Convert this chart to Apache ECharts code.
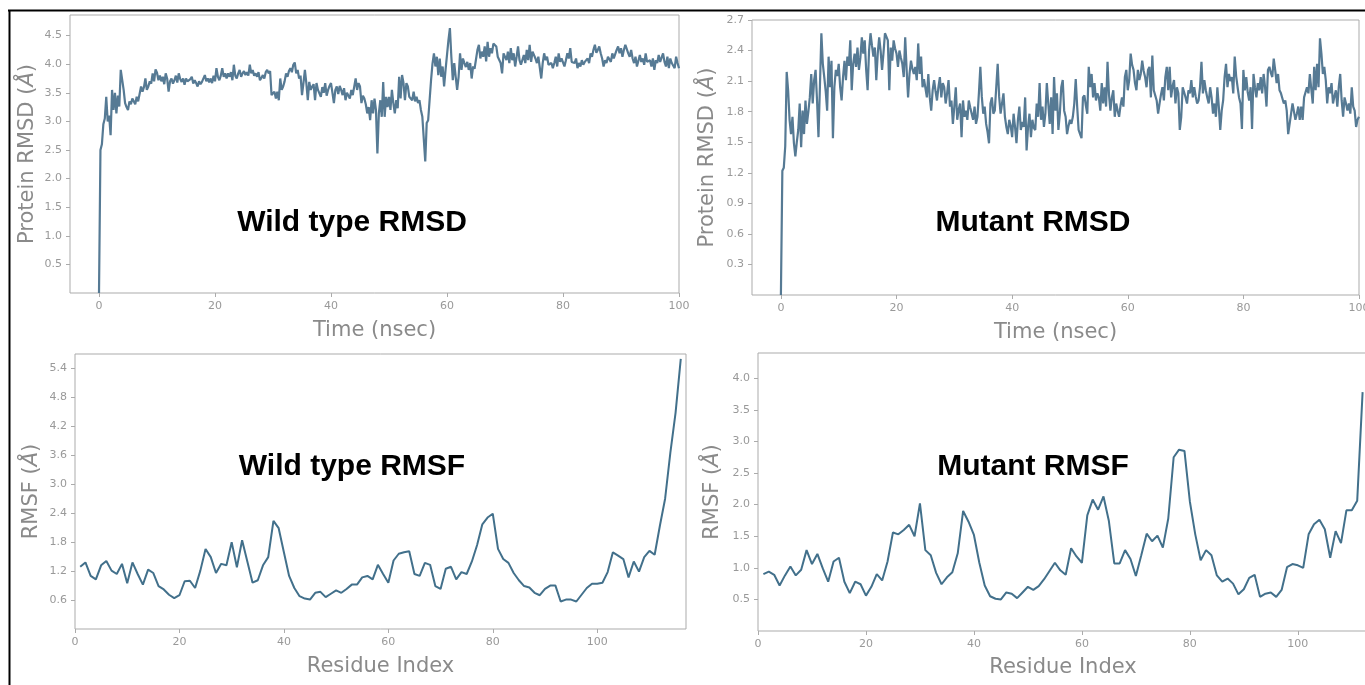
<!DOCTYPE html>
<html>
<head>
<meta charset="utf-8">
<script src="https://cdn.jsdelivr.net/npm/echarts@6/dist/echarts.min.js"></script>
<style>
html,body{margin:0;padding:0;background:#fff;}
#c{width:1365px;height:685px;}
</style>
</head>
<body>
<div id="c"></div>
<script>
// ---- data ----
const RMSD_STEP_NS = 0.25; // sampling interval of the RMSD traces (ns)

const wtRmsd = [
0.00,2.50,2.60,2.95, 3.05,3.43,3.00,3.10, 2.76,3.55,3.20,3.50, 3.14,3.45,3.26,3.90, 3.93,3.55,3.32,3.25,
3.20,3.35,3.30,3.40, 3.37,3.30,3.43,3.35, 3.32,3.61,3.52,3.60, 3.75,3.55,3.61,3.70, 3.66,3.84,3.70,3.91,
3.85,3.72,3.80,3.70, 3.78,3.65,3.84,3.75, 3.52,3.70,3.75,3.66, 3.72,3.80,3.68,3.84, 3.74,3.69,3.75,3.64,
3.75,3.70,3.67,3.74, 3.78,3.66,3.72,3.67, 3.61,3.70,3.65,3.69, 3.72,3.81,3.70,3.75, 3.68,3.75,3.67,3.80,
3.70,3.93,3.78,3.72, 3.80,3.93,3.78,3.84, 3.75,3.84,3.78,3.86, 3.72,3.99,3.80,3.75, 3.84,3.90,3.78,3.84,
3.88,3.81,3.86,3.80, 3.99,3.84,3.90,3.80, 3.84,3.78,3.86,3.72, 3.76,3.81,3.75,3.86, 3.90,3.84,3.88,3.46,
3.43,3.52,3.40,3.52, 3.37,3.75,3.55,3.61, 3.70,3.84,3.78,3.88, 3.93,3.86,3.99,4.03, 3.84,3.90,3.75,3.80,
3.46,3.67,3.90,3.67, 3.37,3.69,3.55,3.61, 3.65,3.37,3.67,3.55, 3.58,3.43,3.60,3.50, 3.67,3.45,3.55,3.62,
3.67,3.50,3.32,3.55, 3.61,3.48,3.62,3.55, 3.46,3.58,3.37,3.50, 3.52,3.40,3.55,3.46, 3.46,3.75,3.55,3.67,
3.61,3.32,3.45,3.40, 3.30,3.14,3.25,3.02, 3.37,3.14,3.40,3.20, 2.44,3.14,3.37,3.08, 3.69,3.08,3.43,3.25,
3.43,3.20,3.55,3.32, 3.14,3.37,3.23,3.78, 3.40,3.81,3.67,3.37, 3.67,3.61,3.43,3.40, 3.37,3.52,3.35,3.43,
3.32,3.37,3.20,3.08, 3.08,2.30,2.97,3.02, 3.37,3.72,4.01,4.19, 3.96,4.13,3.81,4.10, 3.78,3.96,3.61,3.90,
3.90,4.42,4.63,4.13, 3.72,4.02,3.78,3.55, 3.78,4.19,3.90,4.10, 4.02,3.95,4.04,3.90, 4.02,3.75,3.96,3.92,
3.90,4.25,4.34,4.10, 4.22,4.13,4.31,4.05, 4.39,4.13,4.28,4.19, 4.36,4.39,4.31,4.13, 4.13,4.02,3.84,4.19,
4.19,4.07,4.22,4.02, 4.28,4.07,4.19,3.96, 4.13,4.31,4.07,3.99, 4.02,4.16,4.02,4.25, 4.07,4.34,4.04,4.22,
4.25,4.10,4.02,4.13, 4.13,3.75,4.02,4.19, 4.07,4.13,3.99,4.02, 4.02,3.93,4.02,4.13, 3.96,4.19,4.04,4.10,
4.13,3.96,4.07,4.19, 4.10,4.28,4.04,4.02, 4.02,4.10,3.93,4.02, 3.96,4.07,3.99,4.04, 4.04,4.10,4.02,4.19,
4.13,4.25,4.34,4.20, 4.25,4.31,4.19,4.10, 3.96,4.07,4.02,4.13, 4.13,4.04,4.19,4.10, 4.13,4.25,4.31,4.19,
4.28,4.13,4.25,4.34, 4.34,4.19,4.13,4.25, 4.10,4.02,4.13,3.96, 3.96,4.16,4.04,4.10, 3.99,4.19,4.04,4.07,
4.07,3.96,4.10,3.90, 4.07,4.02,4.16,4.04, 4.07,4.19,4.04,3.96, 4.13,3.93,4.10,4.02, 4.02,3.93,4.13,4.02,
3.93
];

const mutRmsd = [
0.00,1.22,1.25,1.46, 2.19,2.01,1.72,1.58, 1.75,1.49,1.36,1.50, 1.62,1.88,1.45,1.81, 1.58,1.91,1.68,1.80,
1.94,2.17,1.88,2.11, 2.21,1.91,1.55,2.05, 2.57,2.27,2.14,2.00, 1.81,2.34,2.04,2.30, 1.54,2.04,2.21,2.15,
2.27,2.04,1.91,2.14, 2.30,2.11,2.34,2.25, 2.50,2.01,2.27,2.37, 2.24,2.43,2.21,2.33, 2.53,2.37,2.50,2.21,
2.01,2.40,2.57,2.45, 2.34,2.43,2.11,2.37, 2.53,2.40,2.21,2.38, 2.57,2.58,2.50,2.01, 2.43,2.30,2.50,2.42,
2.37,2.24,2.40,2.33, 2.27,2.14,2.53,2.21, 1.94,2.17,2.30,2.22, 2.17,2.24,2.11,2.47, 2.17,2.34,2.04,2.12,
2.11,1.94,2.17,1.94, 1.81,2.01,2.11,2.00, 1.91,2.04,2.14,1.94, 2.08,2.04,1.88,1.98, 2.11,1.85,1.91,1.68,
1.85,2.04,1.72,1.82, 1.88,1.55,1.91,1.75, 1.81,1.72,1.91,1.84, 1.78,1.72,1.85,1.68, 1.75,1.98,2.24,1.95,
1.78,1.85,1.68,1.60, 1.49,1.88,1.94,1.78, 1.81,2.04,2.27,1.95, 1.78,1.88,1.98,1.75, 1.65,1.58,1.72,1.66,
1.55,1.78,1.65,1.49, 1.72,1.85,1.62,1.70, 1.65,1.94,1.42,1.65, 1.78,1.55,1.72,1.64, 1.62,1.88,1.75,2.08,
1.72,1.85,1.65,1.78, 2.08,1.88,1.68,1.94, 1.58,2.14,1.81,1.98, 1.62,1.78,2.04,2.11, 1.81,1.75,1.58,1.66,
1.72,1.68,1.75,1.88, 2.12,1.85,1.62,1.58, 1.54,1.94,1.96,1.86, 1.78,2.24,2.04,2.17, 1.94,2.08,1.91,1.98,
1.94,1.81,2.08,1.88, 2.04,1.85,2.29,1.97, 1.81,1.94,2.01,1.75, 1.88,1.81,1.75,1.86, 1.94,1.85,2.14,2.21,
2.01,2.11,2.37,2.26, 2.21,2.08,2.01,2.21, 2.11,2.17,2.30,2.20, 2.14,2.04,2.21,2.24, 1.94,2.35,2.01,1.96,
1.91,1.78,1.88,1.97, 2.04,1.91,2.14,2.24, 2.01,2.24,1.94,2.05, 2.11,1.88,2.04,1.98, 1.62,1.75,2.04,1.99,
1.94,1.88,2.01,1.98, 2.11,1.94,2.04,1.95, 1.88,1.91,2.04,2.29, 1.98,2.11,2.01,1.94, 1.88,2.04,1.94,1.78,
1.88,1.75,2.04,1.85, 1.62,1.81,1.91,2.14, 2.27,2.04,2.17,2.10, 2.14,1.98,2.34,2.15, 2.04,1.94,1.88,1.63,
2.21,2.01,2.14,1.99, 1.91,2.04,1.63,2.17, 2.04,1.94,2.08,2.01, 2.14,1.98,2.17,2.04, 1.85,2.21,2.24,2.18,
2.14,2.32,2.21,2.08, 2.17,2.01,1.98,1.93, 1.88,1.91,1.81,1.58, 1.57,1.78,1.88,1.80, 1.72,1.78,1.85,1.72,
1.85,1.72,1.94,1.99, 2.04,1.98,2.17,2.02, 1.88,2.24,2.01,2.27, 2.04,2.52,2.37,2.17, 2.24,2.11,1.88,2.04,
1.98,2.08,1.88,1.95, 2.01,1.85,2.04,2.17, 1.91,1.75,1.94,1.88, 1.81,1.88,1.78,2.04, 1.85,1.81,1.65,1.72,
1.75
];

// RMSF per residue (residue index starts at 1)
const wtRmsf = [
1.29,1.38,1.10,1.03,1.32,1.41,1.21,1.14,1.35,0.95,
1.38,1.14,0.92,1.23,1.16,0.89,0.82,0.71,0.64,0.70,
0.99,1.00,0.85,1.21,1.66,1.49,1.16,1.35,1.32,1.80,
1.28,1.84,1.40,0.96,1.01,1.32,1.49,2.24,2.09,1.59,
1.10,0.85,0.68,0.63,0.61,0.75,0.77,0.66,0.73,0.80,
0.75,0.83,0.92,0.92,1.07,1.10,1.03,1.33,1.14,0.96,
1.42,1.56,1.59,1.61,1.14,1.10,1.37,1.33,0.89,0.83,
1.25,1.29,1.03,1.18,1.14,1.40,1.74,2.17,2.31,2.39,
1.66,1.45,1.37,1.16,1.01,0.89,0.86,0.75,0.70,0.83,
0.90,0.90,0.57,0.61,0.61,0.57,0.71,0.85,0.94,0.94,
0.96,1.18,1.59,1.52,1.45,1.07,1.40,1.19,1.49,1.62,
1.54,2.14,2.70,3.65,4.48,5.60
];

const mutRmsf = [
0.90,0.94,0.89,0.72,0.88,1.02,0.88,0.97,1.28,1.06,
1.22,0.99,0.78,1.10,1.16,0.78,0.60,0.78,0.74,0.56,
0.70,0.90,0.80,1.10,1.56,1.53,1.60,1.68,1.50,2.02,
1.28,1.20,0.92,0.74,0.85,0.93,1.23,1.90,1.73,1.52,
1.08,0.72,0.55,0.51,0.50,0.61,0.59,0.52,0.61,0.70,
0.65,0.71,0.82,0.95,1.08,0.96,0.89,1.31,1.18,1.08,
1.83,2.08,1.92,2.13,1.74,1.07,1.07,1.28,1.14,0.87,
1.20,1.54,1.42,1.51,1.32,1.78,2.75,2.87,2.85,2.05,
1.53,1.12,1.28,1.20,0.88,0.78,0.83,0.75,0.58,0.66,
0.84,0.89,0.54,0.59,0.61,0.54,0.65,1.01,1.06,1.04,
1.00,1.53,1.69,1.76,1.61,1.16,1.58,1.39,1.91,1.91,
2.06,3.78
];

// tick positions shown on each axis
const xTicks = [0, 20, 40, 60, 80, 100];
const wtRmsdYTicks = [0.5, 1.0, 1.5, 2.0, 2.5, 3.0, 3.5, 4.0, 4.5];
const mutRmsdYTicks = [0.3, 0.6, 0.9, 1.2, 1.5, 1.8, 2.1, 2.4, 2.7];
const wtRmsfYTicks = [0.6, 1.2, 1.8, 2.4, 3.0, 3.6, 4.2, 4.8, 5.4];
const mutRmsfYTicks = [0.5, 1.0, 1.5, 2.0, 2.5, 3.0, 3.5, 4.0];

const panelTitles = ['Wild type RMSD', 'Mutant RMSD', 'Wild type RMSF', 'Mutant RMSF'];
const xTitles = ['Time (nsec)', 'Time (nsec)', 'Residue Index', 'Residue Index'];

// ---- build ----
const toTime = arr => arr.map((v, i) => [i * RMSD_STEP_NS, v]);
const toResidue = arr => arr.map((v, i) => [i + 1, v]);

const TICK_COLOR = '#999';
const TITLE_COLOR = '#8a8a8a';
const FRAME = '#ababab';

function xAxis(gridIndex, min, max, title, gap) {
  return {
    type: 'value', gridIndex, min, max,
    name: title, nameLocation: 'middle', nameGap: gap,
    nameTextStyle: { fontFamily: 'DejaVu Sans', fontSize: 21, color: TITLE_COLOR },
    axisLine: { show: false, onZero: false },
    axisTick: { show: true, length: 4, lineStyle: { color: FRAME }, customValues: xTicks },
    axisLabel: { fontFamily: 'DejaVu Sans', fontSize: 11, color: TICK_COLOR, margin: 8,
                 customValues: xTicks },
    splitLine: { show: false }
  };
}
function yAxis(gridIndex, max, ticks, prefix, gap) {
  return {
    type: 'value', gridIndex, min: 0, max,
    name: '{n|' + prefix + '(}{i|Å}{n|)}', nameLocation: 'middle', nameGap: gap,
    nameTextStyle: { rich: {
      n: { fontFamily: 'DejaVu Sans', fontSize: 21, color: TITLE_COLOR },
      i: { fontFamily: 'DejaVu Sans', fontStyle: 'italic', fontSize: 21, color: TITLE_COLOR }
    } },
    axisLine: { show: false, onZero: false },
    axisTick: { show: true, length: 4, lineStyle: { color: FRAME }, customValues: ticks },
    axisLabel: { fontFamily: 'DejaVu Sans', fontSize: 11, color: TICK_COLOR, margin: 8,
                 customValues: ticks, formatter: v => Number(v).toFixed(1) },
    splitLine: { show: false }
  };
}
const gridBase = { show: true, borderColor: FRAME, borderWidth: 1, backgroundColor: 'transparent',
                   containLabel: false, outerBoundsMode: 'none' };

const RMSD_COLOR = '#567a94';
const RMSF_COLOR = '#42708b';

const option = {
  animation: false,
  backgroundColor: '#ffffff',
  grid: [
    Object.assign({ left: 70, top: 15, width: 609, height: 278 }, gridBase),
    Object.assign({ left: 752, top: 20, width: 607, height: 275 }, gridBase),
    Object.assign({ left: 75, top: 354, width: 611, height: 275 }, gridBase),
    Object.assign({ left: 758, top: 353, width: 610, height: 278 }, gridBase)
  ],
  xAxis: [
    xAxis(0, -5, 100, xTitles[0], 27),
    xAxis(1, -5, 100, xTitles[1], 27),
    xAxis(2, 0, 117, xTitles[2], 27),
    xAxis(3, 0, 113, xTitles[3], 26)
  ],
  yAxis: [
    yAxis(0, 4.86, wtRmsdYTicks, 'Protein RMSD ', 32),
    yAxis(1, 2.7, mutRmsdYTicks, 'Protein RMSD ', 34),
    yAxis(2, 5.7, wtRmsfYTicks, 'RMSF ', 33),
    yAxis(3, 4.4, mutRmsfYTicks, 'RMSF ', 35)
  ],
  series: [
    { type: 'line', xAxisIndex: 0, yAxisIndex: 0, data: toTime(wtRmsd), showSymbol: false,
      lineStyle: { color: RMSD_COLOR, width: 2.2 }, itemStyle: { color: RMSD_COLOR } },
    { type: 'line', xAxisIndex: 1, yAxisIndex: 1, data: toTime(mutRmsd), showSymbol: false,
      lineStyle: { color: RMSD_COLOR, width: 2.2 }, itemStyle: { color: RMSD_COLOR } },
    { type: 'line', xAxisIndex: 2, yAxisIndex: 2, data: toResidue(wtRmsf), showSymbol: false,
      lineStyle: { color: RMSF_COLOR, width: 2 }, itemStyle: { color: RMSF_COLOR } },
    { type: 'line', xAxisIndex: 3, yAxisIndex: 3, data: toResidue(mutRmsf), showSymbol: false,
      lineStyle: { color: RMSF_COLOR, width: 2 }, itemStyle: { color: RMSF_COLOR } }
  ],
  graphic: [
    { type: 'line', shape: { x1: 8, y1: 10.5, x2: 1365, y2: 10.5 }, style: { stroke: '#000', lineWidth: 2 } },
    { type: 'line', shape: { x1: 9.5, y1: 10, x2: 9.5, y2: 685 }, style: { stroke: '#000', lineWidth: 2 } },
    { type: 'text', x: 352, y: 223, style: { text: panelTitles[0], font: 'bold 30px "Liberation Sans", Arial, sans-serif', fill: '#000', align: 'center', verticalAlign: 'middle' } },
    { type: 'text', x: 1033, y: 223, style: { text: panelTitles[1], font: 'bold 30px "Liberation Sans", Arial, sans-serif', fill: '#000', align: 'center', verticalAlign: 'middle' } },
    { type: 'text', x: 352, y: 467, style: { text: panelTitles[2], font: 'bold 30px "Liberation Sans", Arial, sans-serif', fill: '#000', align: 'center', verticalAlign: 'middle' } },
    { type: 'text', x: 1033, y: 467, style: { text: panelTitles[3], font: 'bold 30px "Liberation Sans", Arial, sans-serif', fill: '#000', align: 'center', verticalAlign: 'middle' } }
  ]
};

const chart = echarts.init(document.getElementById('c'), null, { renderer: 'canvas' });
chart.setOption(option);
</script>
</body>
</html>
